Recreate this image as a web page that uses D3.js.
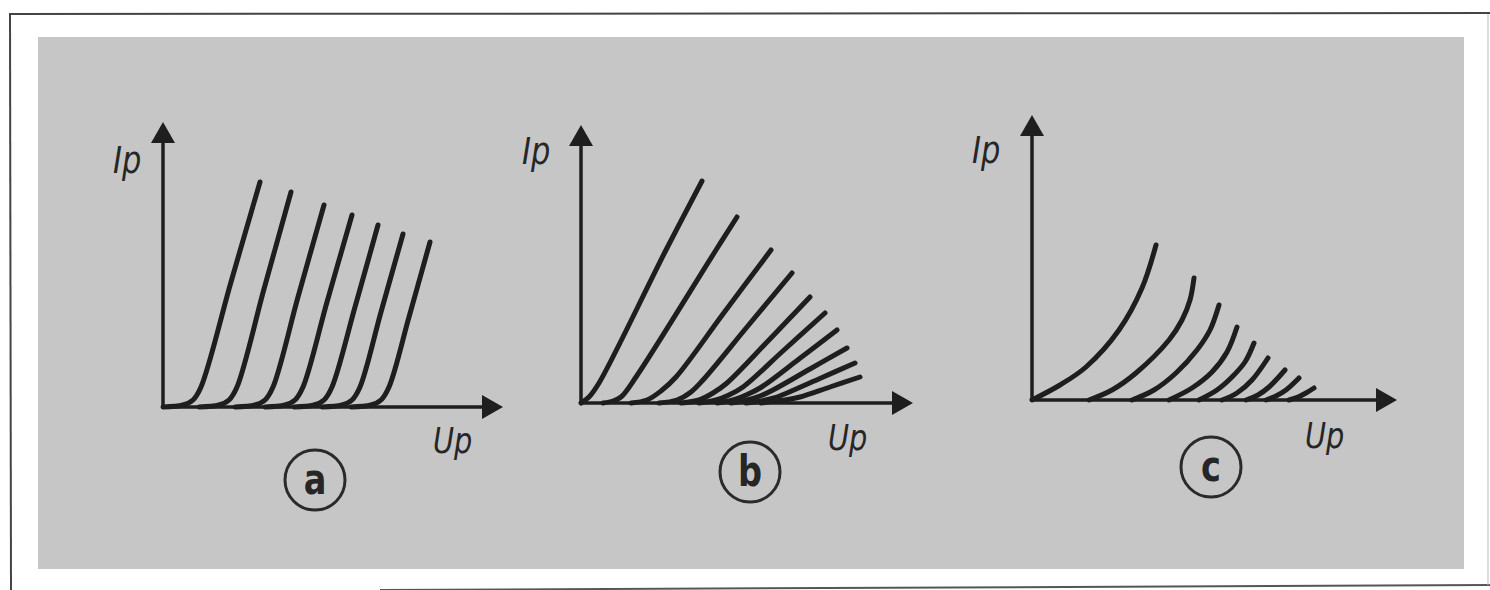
<!DOCTYPE html>
<html>
<head>
<meta charset="utf-8">
<script src="https://cdn.jsdelivr.net/npm/d3@7"></script>
<style>
  html, body { margin: 0; padding: 0; background: #fff; }
  svg { display: block; }
  .lbl { font-family: "DejaVu Sans", "Liberation Sans", sans-serif; fill: #262626; }
</style>
</head>
<body>
<div id="chart"></div>
<script>
// anode characteristics, arbitrary units: [Up, Ip]
var curvesA = [
  [[0, 0], [20, 2], [30, 7], [38, 20], [68, 125], [97, 225]],
  [[36, 0], [56, 2], [66, 7], [74, 20], [101, 118], [128, 215]],
  [[72, 0], [92, 2], [102, 7], [110, 20], [135, 110], [161, 202]],
  [[102, 0], [122, 2], [132, 7], [140, 20], [164, 105], [189, 192]],
  [[131, 0], [151, 2], [161, 7], [169, 20], [192, 100], [215, 182]],
  [[159, 0], [179, 2], [189, 7], [197, 20], [218, 95], [240, 173]],
  [[188, 0], [208, 2], [218, 7], [226, 20], [246, 90], [267, 165]]
];
var curvesB = [
  [[0, 0], [8, 6], [18, 20], [85, 153], [121, 222]],
  [[22, 0], [32, 2], [40, 6], [55, 26], [135, 153], [156, 186]],
  [[50, 0], [66, 3], [80, 12], [95, 26], [142, 89], [190, 153]],
  [[78, 0], [96, 3], [110, 11], [122, 23], [166, 76], [211, 130]],
  [[100, 0], [118, 3], [132, 10], [146, 20], [188, 63], [229, 106]],
  [[118, 0], [135, 3], [148, 8], [162, 16], [203, 53], [244, 90]],
  [[136, 0], [152, 3], [165, 8], [179, 15], [218, 44], [256, 73]],
  [[150, 0], [166, 3], [179, 7], [192, 13], [229, 34], [266, 55]],
  [[165, 0], [180, 2], [193, 5], [206, 10], [240, 25], [274, 40]],
  [[180, 0], [195, 2], [207, 3.5], [219, 6], [249, 16], [279, 26]]
];
var curvesC = [
  [[0, 0], [28, 15], [54, 33], [87, 70], [110, 112], [124, 155]],
  [[57, 0], [80, 10], [104, 27], [137, 60], [150, 80], [158, 100], [162, 122]],
  [[100, 0], [122, 10], [144, 27], [165, 50], [178, 70], [187, 95]],
  [[137, 0], [160, 12], [180, 28], [195, 48], [205, 73]],
  [[167, 0], [185, 10], [200, 23], [213, 38], [222, 57]],
  [[190, 0], [205, 7], [220, 20], [236, 42]],
  [[214, 0], [226, 5], [237, 13], [253, 30]],
  [[234, 0], [244, 4], [254, 10], [267, 22]],
  [[257, 0], [266, 3], [274, 7], [282, 12]]
];
var panelLetters = ["a", "b", "c"];
var yLabel = "Ip", xLabel = "Up";

var width = 1490, height = 590;

// layout of the three small diagrams
var panels = [
  {curves: curvesA, ox: 163, oy: 407, xMax: 340, yMax: 285,
   ip: [113, 173], up: [433, 453], ring: [315, 480]},
  {curves: curvesB, ox: 581, oy: 403, xMax: 332, yMax: 278,
   ip: [522, 164], up: [828, 450], ring: [750, 472]},
  {curves: curvesC, ox: 1032, oy: 400, xMax: 365, yMax: 285,
   ip: [972, 163], up: [1305, 448], ring: [1211, 467]}
];

var svg = d3.select("#chart").append("svg")
    .attr("width", width)
    .attr("height", height);

// page frame + grey plate
svg.append("line").attr("x1", 9).attr("y1", 14).attr("x2", 1490).attr("y2", 13)
    .attr("stroke", "#444").attr("stroke-width", 2);
svg.append("line").attr("x1", 10).attr("y1", 13).attr("x2", 11).attr("y2", 590)
    .attr("stroke", "#444").attr("stroke-width", 2);
svg.append("line").attr("x1", 380).attr("y1", 590).attr("x2", 1490).attr("y2", 585)
    .attr("stroke", "#555").attr("stroke-width", 2);
svg.append("line").attr("x1", 1488).attr("y1", 14).attr("x2", 1488).attr("y2", 585)
    .attr("stroke", "#bbb").attr("stroke-width", 1);
svg.append("rect")
    .attr("x", 38).attr("y", 37)
    .attr("width", 1426).attr("height", 532)
    .attr("fill", "#c6c6c6");

var ink = "#1e1e1e";

function label(g, pos, size, txt, opts) {
    var t = g.append("text")
        .attr("class", "lbl")
        .attr("transform", "translate(" + pos[0] + "," + pos[1] + ") scale(0.8,1)")
        .attr("font-size", size)
        .text(txt);
    if (opts.italic) t.attr("font-style", "italic");
    if (opts.bold) t.attr("font-weight", "bold");
    if (opts.middle) t.attr("text-anchor", "middle");
    return t;
}

panels.forEach(function (p, i) {
    var x = d3.scaleLinear().domain([0, p.xMax]).range([p.ox, p.ox + p.xMax]);
    var y = d3.scaleLinear().domain([0, p.yMax]).range([p.oy, p.oy - p.yMax]);
    var g = svg.append("g").attr("class", "panel");

    var line = d3.line()
        .x(function (d) { return x(d[0]); })
        .y(function (d) { return y(d[1]); })
        .curve(d3.curveCatmullRom.alpha(0.5));

    g.selectAll("path.curve")
        .data(p.curves)
        .enter().append("path")
        .attr("class", "curve")
        .attr("d", line)
        .attr("fill", "none")
        .attr("stroke", ink)
        .attr("stroke-width", 5)
        .attr("stroke-linecap", "round");

    // axes with arrow heads
    var ah = 21, aw = 12;
    g.append("line")
        .attr("x1", x(0) - 1.5).attr("y1", y(0))
        .attr("x2", x(p.xMax) - ah + 2).attr("y2", y(0))
        .attr("stroke", ink).attr("stroke-width", 3.5);
    g.append("line")
        .attr("x1", x(0)).attr("y1", y(0) + 1.5)
        .attr("x2", x(0)).attr("y2", y(p.yMax) + ah - 2)
        .attr("stroke", ink).attr("stroke-width", 3.5);
    g.append("path")
        .attr("d", "M" + x(p.xMax) + "," + y(0) +
            "L" + (x(p.xMax) - ah) + "," + (y(0) - aw) +
            "L" + (x(p.xMax) - ah) + "," + (y(0) + aw) + "Z")
        .attr("fill", ink);
    g.append("path")
        .attr("d", "M" + x(0) + "," + y(p.yMax) +
            "L" + (x(0) - aw) + "," + (y(p.yMax) + ah) +
            "L" + (x(0) + aw) + "," + (y(p.yMax) + ah) + "Z")
        .attr("fill", ink);

    label(g, p.ip, 38, yLabel, {italic: true});
    label(g, p.up, 36, xLabel, {italic: true});

    g.append("circle")
        .attr("cx", p.ring[0]).attr("cy", p.ring[1])
        .attr("r", 30)
        .attr("fill", "none")
        .attr("stroke", "#2a2a2a")
        .attr("stroke-width", 3);
    label(g, [p.ring[0], p.ring[1] + 14], 42, panelLetters[i], {bold: true, middle: true});
});
</script>
</body>
</html>
